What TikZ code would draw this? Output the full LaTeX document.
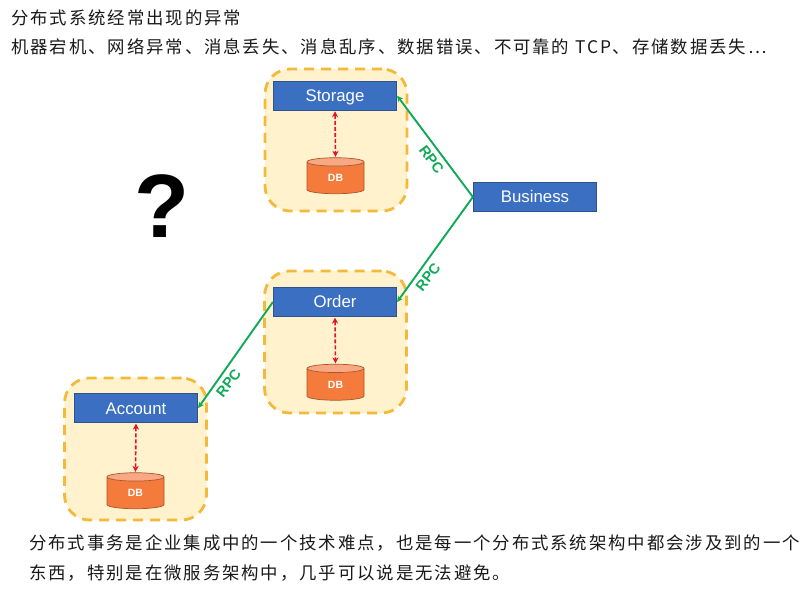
\documentclass[tikz,border=0pt]{standalone}
\usepackage{fontspec}
\setmainfont{Liberation Sans}
\newfontfamily\cjk[LetterSpace=11]{Noto Sans CJK SC}
\usetikzlibrary{shapes.geometric,arrows.meta}
\definecolor{boxblue}{HTML}{3A6FC1}
\definecolor{boxedge}{HTML}{2F528F}
\definecolor{panelfill}{HTML}{FFF2CC}
\definecolor{paneledge}{HTML}{F4B93A}
\definecolor{rpcgreen}{HTML}{0FA958}
\definecolor{linkred}{HTML}{E0102F}
\definecolor{dbfill}{HTML}{F57B3C}
\definecolor{dbtop}{HTML}{F8A882}
\definecolor{dbedge}{HTML}{A9562B}
\tikzset{
  x=1pt,y=-1pt,
  panel/.style={draw=paneledge,fill=panelfill,line width=2.8pt,rounded corners=25pt,
    dash pattern=on 10pt off 7pt,minimum width=142pt,minimum height=142pt,inner sep=0pt},
  service/.style={draw=boxedge,fill=boxblue,line width=0.7pt,text=white,minimum width=123.5pt,minimum height=29.5pt,
    inner sep=0pt,text height=14pt,text depth=2pt,font=\fontsize{16.8}{20}\selectfont},
  dbnode/.style={shape=cylinder,shape border rotate=90,aspect=0.55,draw=dbedge,line width=0.7pt,
    cylinder uses custom fill,cylinder body fill=dbfill,cylinder end fill=dbtop,text=white,
    minimum width=57pt,minimum height=36pt,inner sep=0pt,font=\bfseries\fontsize{10.5}{13}\selectfont},
  rpcarrow/.style={draw=rpcgreen,line width=1.9pt,-{Stealth[length=6pt,width=6pt]}},
  dblink/.style={draw=linkred,line width=1.6pt,dash pattern=on 4pt off 2pt,{Stealth[length=6pt,width=6pt]}-{Stealth[length=6pt,width=6pt]},shorten <=0.5pt,shorten >=0.5pt},
  rpclabel/.style={text=rpcgreen,inner sep=0pt,font=\bfseries\fontsize{14.5}{17}\selectfont},
  cjktext/.style={anchor=west,inner sep=0pt,text=black!90,font=\cjk\fontsize{17.4}{20}\selectfont}
}
\begin{document}
\begin{tikzpicture}
\useasboundingbox[fill=white] (0,0) rectangle (811,593);
\node[cjktext] (t1) at (11,18) {分布式系统经常出现的异常};
\node[cjktext] (t2) at (11,47) {机器宕机、网络异常、消息丢失、消息乱序、数据错误、不可靠的 TCP、存储数据丢失…};
\node[panel] (p1) at (336,140) {};
\node[panel] (p2) at (335.5,342) {};
\node[panel] (p3) at (135.5,449) {};
\node[service] (storage) at (335,95.7) {Storage};
\node[service] (business) at (535,197) {Business};
\node[service] (order) at (335,302) {Order};
\node[service] (account) at (136,408) {Account};
\node[dbnode] (db1) at (335.5,178) {DB};
\node[dbnode] (db2) at (335.5,384.5) {DB};
\node[dbnode] (db3) at (135.5,493) {DB};
\draw[dblink] (storage.south) -- (db1.north);
\draw[dblink] (order.south) -- (db2.north);
\draw[dblink] (account.south) -- (db3.north);
\draw[rpcarrow] (business.west) -- (storage.east);
\draw[rpcarrow] (business.west) -- (order.east);
\draw[rpcarrow] (order.west) -- (account.east);
\node[rpclabel,rotate=-53] (r1) at (431.5,159.5) {RPC};
\node[rpclabel,rotate=52] (r2) at (428,277) {RPC};
\node[rpclabel,rotate=52] (r3) at (228.5,383) {RPC};
\node[inner sep=0pt,font=\bfseries\fontsize{90}{90}\selectfont] (q) at (161.5,206) {?};
\node[cjktext] (b1) at (29,543) {分布式事务是企业集成中的一个技术难点，也是每一个分布式系统架构中都会涉及到的一个};
\node[cjktext] (b2) at (29,573) {东西，特别是在微服务架构中，几乎可以说是无法避免。};
\end{tikzpicture}
\end{document}
